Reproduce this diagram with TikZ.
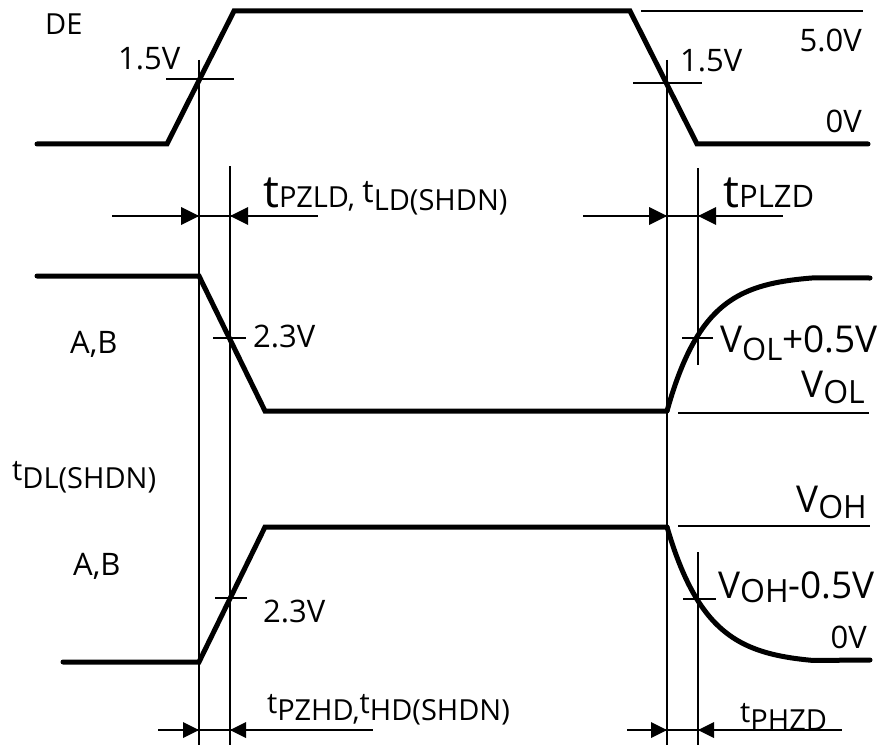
\documentclass[tikz,border=0pt]{standalone}
\usepackage{fontspec}
\setmainfont{Open Sans}
\newcommand{\fs}[1]{\fontsize{#1}{#1}\selectfont}
\newcommand{\dn}[3]{\raisebox{-#1}{\fs{#2}#3}}

\begin{document}
\begin{tikzpicture}[x=1pt,y=-1pt,
    wave/.style={black,line width=5pt,line cap=round},
    guide/.style={black,line width=2.7pt}]
    \tikzstyle{every node}+=[inner sep=0pt]
    \useasboundingbox (0,0) rectangle (894,749);
    % DE
    \draw [wave] (37,144) -- (167,144) -- (234,11) -- (630,11) -- (697,144) -- (868,144);
    \draw [guide] (641,11) -- (863,11);
    \draw [guide] (166,79) -- (234,79);
    \draw [guide] (633,83) -- (702,83);
    \node (de) [font=\fs{29}, anchor=base west] at (45,35) {DE};
    \node (rise15) [font=\fs{31}, anchor=base west] at (118,70) {1.5V};
    \node (fall15) [font=\fs{31}, anchor=base west] at (680,72) {1.5V};
    \node (hi50) [font=\fs{31}, anchor=base east] at (862,52) {5.0V};
    \node (lo0) [font=\fs{31}, anchor=base east] at (862,133) {0V};
    % marker lines
    \draw [guide] (199,60) -- (199,745);
    \draw [guide] (230,166) -- (230,745);
    \draw [guide] (667,60) -- (667,745);
    \draw [guide] (698,168) -- (698,365);
    \draw [guide] (698,552) -- (698,745);
    % enable times
    \draw [guide] (112,216) -- (318,216);
    \fill [black] (199,216) -- (181,207) -- (181,225) -- cycle;
    \fill [black] (230,216) -- (248,207) -- (248,225) -- cycle;
    \draw [guide] (583,216) -- (783,216);
    \fill [black] (667,216) -- (649,207) -- (649,225) -- cycle;
    \fill [black] (698,216) -- (716,207) -- (716,225) -- cycle;
    \node (tpzld) [anchor=base west] at (263,207) {\fs{45}t\fs{29}PZLD, \raisebox{5pt}{\fs{32}t}\dn{3pt}{29}{LD(SHDN)}};
    \node (tplzd) [anchor=base west] at (723,207) {\fs{45}t\fs{31}PLZD};
    % A,B low
    \draw [wave] (37,276) -- (199,276) -- (265,411) -- (667,411);
    \draw [wave] plot [domain=0:146, samples=50, smooth] ({667+\x},{411-136*(1-exp(-\x/38))}) -- (870,278);
    \draw [guide] (213,338) -- (246,338);
    \draw [guide] (682,338) -- (713,338);
    \draw [guide] (678,413) -- (869,413);
    \node (abl) [font=\fs{31}, anchor=base west] at (70,353) {A,B};
    \node (v23a) [font=\fs{31}, anchor=base west] at (253,347) {2.3V};
    \node (vol5) [anchor=base west] at (720,352) {\fs{37}V\dn{8pt}{31}{OL}+0.5V};
    \node (vol) [anchor=base east] at (865,397) {\fs{37}V\dn{6pt}{32}{OL}};
    \node (tdl) [anchor=base west] at (12,480) {\fs{29}t\dn{8pt}{29}{DL(SHDN)}};
    % A,B high
    \draw [guide] (678,526) -- (870,526);
    \node (voh) [anchor=base east] at (867,512) {\fs{37}V\dn{6pt}{32}{OH}};
    \draw [wave] (63,662) -- (199,662) -- (265,527) -- (667,527);
    \draw [wave] plot [domain=0:146, samples=50, smooth] ({667+\x},{527+137*(1-exp(-\x/40))}) -- (870,660);
    \draw [guide] (215,598) -- (247,598);
    \draw [guide] (683,599) -- (716,599);
    \node (abh) [font=\fs{31}, anchor=base west] at (73,575) {A,B};
    \node (v23b) [font=\fs{31}, anchor=base west] at (263,622) {2.3V};
    \node (voh5) [anchor=base west] at (718,598) {\fs{37}V\dn{4pt}{32}{OH}-0.5V};
    \node (lo0b) [font=\fs{31}, anchor=base east] at (867,648) {0V};
    % output enable/disable times
    \draw [guide] (158,730) -- (373,730);
    \fill [black] (199,730) -- (183,722) -- (183,738) -- cycle;
    \fill [black] (230,730) -- (246,722) -- (246,738) -- cycle;
    \draw [guide] (627,730) -- (842,730);
    \fill [black] (667,730) -- (651,722) -- (651,738) -- cycle;
    \fill [black] (698,730) -- (714,722) -- (714,738) -- cycle;
    \node (tpzhd) [anchor=base west] at (267,713) {\fs{29}t\dn{7pt}{29}{PZHD,}t\dn{7pt}{29}{HD(SHDN)}};
    \node (tphzd) [anchor=base west] at (740,722) {\fs{29}t\dn{8pt}{29}{PHZD}};
\end{tikzpicture}
\end{document}
